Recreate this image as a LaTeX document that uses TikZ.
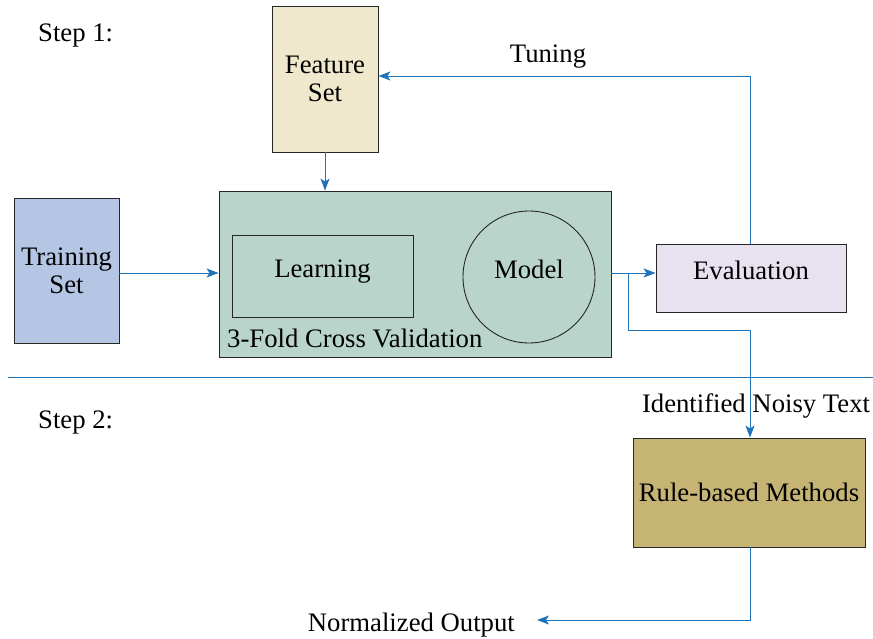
\documentclass[tikz,border=0pt]{standalone}
\usepackage{fontspec}
\setmainfont{Liberation Serif}
\usetikzlibrary{arrows.meta}
\definecolor{lineblue}{RGB}{30,115,185}
\definecolor{featfill}{RGB}{240,232,204}
\definecolor{trainfill}{RGB}{180,198,228}
\definecolor{cvfill}{RGB}{185,212,203}
\definecolor{evalfill}{RGB}{232,226,240}
\definecolor{rulefill}{RGB}{198,180,116}
\begin{document}
\begin{tikzpicture}[x=1pt,y=-1pt,
  every node/.style={font=\fontsize{26.7}{28}\selectfont, inner sep=0pt},
  box/.style={draw=black!85, line width=0.9pt, align=center},
  raised/.style={text height=0.68em, text depth=0.3em},
  conn/.style={draw=lineblue, line width=0.9pt, -{Stealth[length=12pt,width=9pt,inset=3pt]}},
  plain/.style={draw=lineblue, line width=0.9pt}]
\useasboundingbox (0,0) rectangle (873,639);
\node[anchor=base west] (s1) at (38,42) {Step 1:};
\node[anchor=base west] (s2) at (38,428) {Step 2:};
\node[box, fill=featfill, minimum width=106pt, minimum height=146pt] (feat) at (325,79) {Feature\\Set};
\node[box, fill=trainfill, minimum width=105pt, minimum height=145pt] (train) at (66.5,270.5) {Training\\Set};
\node[box, fill=cvfill, minimum width=392pt, minimum height=166pt] (cv) at (415,274) {};
\node[box, raised, minimum width=181pt, minimum height=82pt] (learn) at (322.5,276) {Learning};
\node[box, raised, circle, minimum size=132pt] (model) at (529,277) {Model};
\node[anchor=base west] (cvlabel) at (227,347) {3-Fold Cross Validation};
\node[box, raised, fill=evalfill, minimum width=190pt, minimum height=68pt] (eval) at (751,278) {Evaluation};
\node[box, fill=rulefill, minimum width=232pt, minimum height=109pt] (rule) at (749,492.5) {Rule-based Methods};
\node[anchor=base] (tuning) at (548,63) {Tuning};
\node[anchor=base] (noisy) at (756,412) {Identified Noisy Text};
\node[anchor=base east] (out) at (515,631) {Normalized Output};
\coordinate (sepL) at (8,377);
\coordinate (sepR) at (873,377);
\coordinate (br) at (628,273);
\coordinate (endout) at (537,620);
\draw[plain] (sepL) -- (sepR);
\draw[conn] (feat.south) -- (cv.north -| feat.south);
\draw[conn] (train.east |- 0,273) -- (cv.west |- 0,273);
\draw[conn] (cv.east |- 0,273) -- (eval.west |- 0,273);
\draw[conn] (eval.north -| 750,0) |- (feat.east |- 0,76);
\draw[conn] (br) |- (750,330) -- (rule.north -| 750,0);
\draw[conn] (rule.south -| 750,0) |- (endout);
\end{tikzpicture}
\end{document}
